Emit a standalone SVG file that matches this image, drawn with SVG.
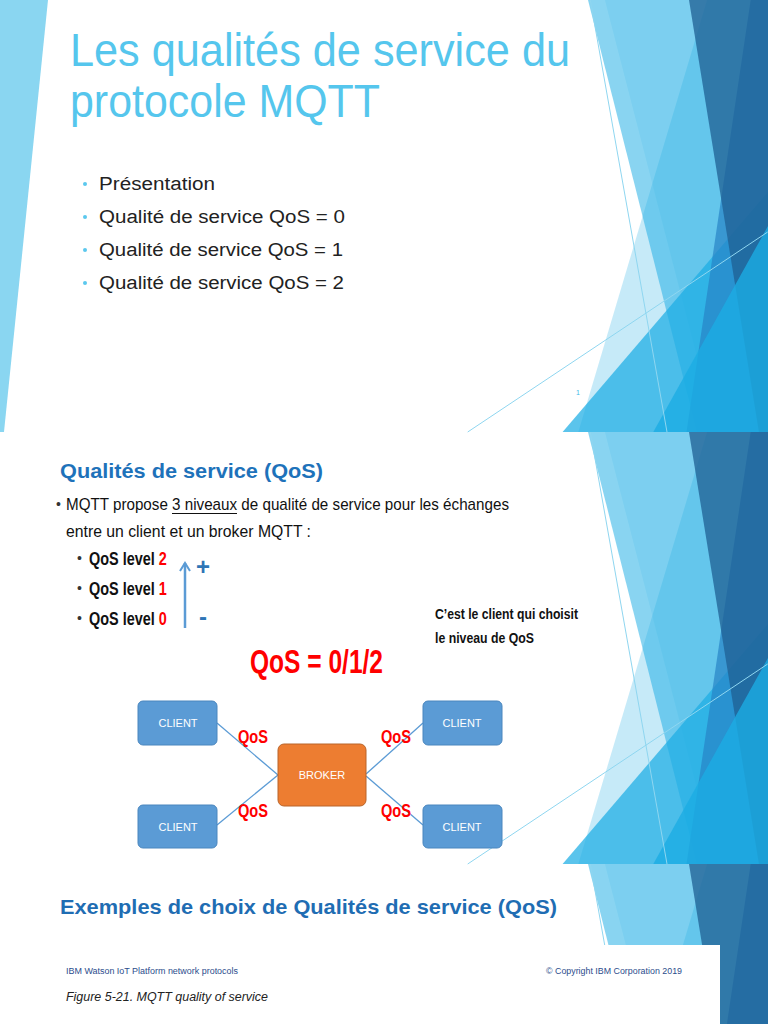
<svg xmlns="http://www.w3.org/2000/svg" width="768" height="1024" viewBox="0 0 768 1024">
<style>
.t1{font-family:"Liberation Sans",Arial,sans-serif;}
.title{font-size:46px;fill:#55C6ED;}
.bul{font-size:18px;fill:#222;}
.h2{font-size:20px;font-weight:bold;fill:#1E72BA;}
.body{font-size:17px;fill:#111;}
.lvl{font-size:19px;font-weight:bold;fill:#111;}
.red{fill:#F00;}
.node-text{font-size:11px;fill:#fff;text-anchor:middle;}
.qos{font-size:18px;font-weight:bold;fill:#F00;}
.client{fill:#5B9BD5;stroke:#4A86BE;stroke-width:1;}
.broker{fill:#ED7D31;stroke:#B9652A;stroke-width:1;}
.conn{stroke:#5B9BD5;stroke-width:1.3;fill:none;}
.foot{font-size:8.5px;fill:#2B4C8C;}
</style>
<defs>
<g id="deco">
  <polygon points="707.1,0 768,0 768,432 578.3,432" fill="#1CADE4" fill-opacity="0.25"/>
  <polygon points="604.9,0 768,0 768,432 716.5,432" fill="#1CADE4" fill-opacity="0.12"/>
  <polygon points="768,192 768,432 562.6,432" fill="#1CADE4" fill-opacity="0.72"/>
  <polygon points="588,0 768,0 768,432 697,432" fill="#1CADE4" fill-opacity="0.52"/>
  <polygon points="750.7,0 768,0 768,432 686.5,432" fill="#2683C6" fill-opacity="0.7"/>
  <polygon points="689,0 768,0 768,432 758.9,432" fill="#1F5F93" fill-opacity="0.75"/>
  <polygon points="768,226 768,432 653.3,432" fill="#1CADE4" fill-opacity="0.8"/>
  <line x1="590.3" y1="0" x2="667" y2="432" stroke="#8FD6F0" stroke-width="1"/>
  <line x1="467.7" y1="432" x2="767.7" y2="232" stroke="#8FD6F0" stroke-width="1"/>
</g>
<marker id="ah" viewBox="0 0 12 12" refX="10" refY="6" markerWidth="12" markerHeight="12" markerUnits="userSpaceOnUse" orient="auto">
  <polyline points="2,1 10,6 2,11" fill="none" stroke="#5B9BD5" stroke-width="2"/>
</marker>
</defs>
<rect x="0" y="0" width="768" height="1024" fill="#fff"/>

<!-- Slide 1 -->
<g id="slide1">
  <polygon points="0,0 48,0 4,432 0,432" fill="#8AD6F1"/>
  <use href="#deco"/>
  <text class="t1 title" x="70" y="66" textLength="500" lengthAdjust="spacingAndGlyphs">Les qualités de service du</text>
  <text class="t1 title" x="70" y="117" textLength="310" lengthAdjust="spacingAndGlyphs">protocole MQTT</text>
  <g fill="#5BC8EE">
    <circle cx="85" cy="184" r="2"/>
    <circle cx="85" cy="217" r="2"/>
    <circle cx="85" cy="250" r="2"/>
    <circle cx="85" cy="283" r="2"/>
  </g>
  <text class="t1 bul" x="99" y="190" textLength="116" lengthAdjust="spacingAndGlyphs">Présentation</text>
  <text class="t1 bul" x="99" y="223" textLength="246" lengthAdjust="spacingAndGlyphs">Qualité de service QoS = 0</text>
  <text class="t1 bul" x="99" y="256" textLength="244" lengthAdjust="spacingAndGlyphs">Qualité de service QoS = 1</text>
  <text class="t1 bul" x="99" y="289" textLength="245" lengthAdjust="spacingAndGlyphs">Qualité de service QoS = 2</text>
  <text class="t1" x="576" y="395" font-size="7" fill="#3FB8E8">1</text>
</g>

<!-- Slide 2 -->
<g id="slide2">
  <use href="#deco" y="432"/>
  <text class="t1 h2" x="60" y="478" textLength="263" lengthAdjust="spacingAndGlyphs">Qualités de service (QoS)</text>
  <text class="t1" x="56" y="509" font-size="14" fill="#333">•</text>
  <text class="t1 body" x="66" y="510" textLength="443" lengthAdjust="spacingAndGlyphs">MQTT propose 3 niveaux de qualité de service pour les échanges</text>
  <line x1="172" y1="513.5" x2="237" y2="513.5" stroke="#111" stroke-width="1.2"/>
  <text class="t1 body" x="66" y="537" textLength="245" lengthAdjust="spacingAndGlyphs">entre un client et un broker MQTT :</text>
  <g class="t1" font-size="14" fill="#333">
    <text x="77" y="563">•</text>
    <text x="77" y="593">•</text>
    <text x="77" y="623">•</text>
  </g>
  <text class="t1 lvl" transform="translate(89,565) scale(0.76,1)">QoS level <tspan class="red">2</tspan></text>
  <text class="t1 lvl" transform="translate(89,595) scale(0.76,1)">QoS level <tspan class="red">1</tspan></text>
  <text class="t1 lvl" transform="translate(89,625) scale(0.76,1)">QoS level <tspan class="red">0</tspan></text>
  <line x1="185" y1="628" x2="185" y2="563" stroke="#5B9BD5" stroke-width="2.5" marker-end="url(#ah)"/>
  <text class="t1" x="203" y="575" font-size="24" font-weight="bold" fill="#2E75B6" text-anchor="middle">+</text>
  <text class="t1" x="203" y="625" font-size="24" font-weight="bold" fill="#2E75B6" text-anchor="middle">-</text>
  <text class="t1" x="435" y="619" font-size="15" font-weight="bold" fill="#111" textLength="143" lengthAdjust="spacingAndGlyphs">C’est le client qui choisit</text>
  <text class="t1" x="435" y="643" font-size="15" font-weight="bold" fill="#111" textLength="99" lengthAdjust="spacingAndGlyphs">le niveau de QoS</text>
  <text class="t1" x="250" y="673" font-size="33" font-weight="bold" fill="#F00" textLength="133" lengthAdjust="spacingAndGlyphs">QoS = 0/1/2</text>

  <g id="connectors">
    <line class="conn" x1="217" y1="723" x2="278" y2="775"/>
    <line class="conn" x1="217" y1="825" x2="278" y2="775"/>
    <line class="conn" x1="423" y1="723" x2="366" y2="774"/>
    <line class="conn" x1="423" y1="825" x2="366" y2="776"/>
  </g>
  <g id="client-tl">
    <rect class="client" x="138" y="701" width="79" height="44" rx="5"/>
    <text class="t1 node-text" x="178" y="727">CLIENT</text>
  </g>
  <g id="client-bl">
    <rect class="client" x="138" y="805" width="79" height="43" rx="5"/>
    <text class="t1 node-text" x="178" y="831">CLIENT</text>
  </g>
  <g id="client-tr">
    <rect class="client" x="423" y="701" width="79" height="44" rx="5"/>
    <text class="t1 node-text" x="462" y="727">CLIENT</text>
  </g>
  <g id="client-br">
    <rect class="client" x="423" y="805" width="79" height="43" rx="5"/>
    <text class="t1 node-text" x="462" y="831">CLIENT</text>
  </g>
  <g id="broker">
    <rect class="broker" x="278" y="744" width="88" height="62" rx="6"/>
    <text class="t1 node-text" x="322" y="779">BROKER</text>
  </g>
  <text class="t1 qos" x="238" y="743" textLength="30" lengthAdjust="spacingAndGlyphs">QoS</text>
  <text class="t1 qos" x="238" y="817" textLength="30" lengthAdjust="spacingAndGlyphs">QoS</text>
  <text class="t1 qos" x="381" y="743" textLength="30" lengthAdjust="spacingAndGlyphs">QoS</text>
  <text class="t1 qos" x="381" y="817" textLength="30" lengthAdjust="spacingAndGlyphs">QoS</text>
</g>

<!-- Slide 3 -->
<g id="slide3">
  <use href="#deco" y="864"/>
  <text class="t1" x="60" y="914" font-size="21" font-weight="bold" fill="#1F6DB3" textLength="497" lengthAdjust="spacingAndGlyphs">Exemples de choix de Qualités de service (QoS)</text>
  <rect x="0" y="945" width="720" height="79" fill="#fff"/>
  <text class="t1 foot" x="66" y="974" textLength="172" lengthAdjust="spacingAndGlyphs">IBM Watson IoT Platform network protocols</text>
  <text class="t1 foot" x="546" y="974" textLength="136" lengthAdjust="spacingAndGlyphs">© Copyright IBM Corporation 2019</text>
  <text class="t1" x="66" y="1001" font-size="12.5" font-style="italic" fill="#222" textLength="202" lengthAdjust="spacingAndGlyphs">Figure 5-21.  MQTT quality of service</text>
</g>
</svg>
